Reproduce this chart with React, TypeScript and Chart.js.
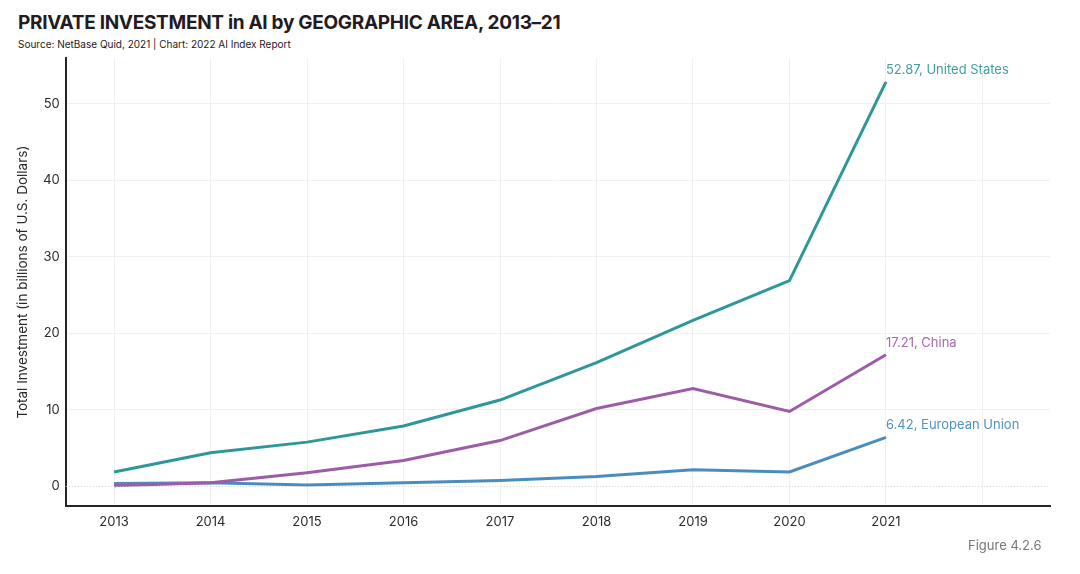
import React, { useEffect, useRef } from "react";
import { Chart, registerables } from "chart.js";

Chart.register(...registerables);

const years = [2013, 2014, 2015, 2016, 2017, 2018, 2019, 2020, 2021];
const usValues = [1.9, 4.4, 5.8, 7.9, 11.3, 16.2, 21.7, 26.9, 52.87];
const chinaValues = [0.1, 0.5, 1.8, 3.4, 6.0, 10.2, 12.8, 9.8, 17.21];
const euValues = [0.4, 0.5, 0.2, 0.5, 0.8, 1.3, 2.2, 1.9, 6.42];
const seriesNames = ["United States", "China", "European Union"];
const seriesColors = ["#2f9797", "#9d5ca6", "#4a8dbd"];
const labelColors = ["#3e9fa0", "#a569ad", "#4f93c0"];
const yTicks = [0, 10, 20, 30, 40, 50];
const xGridYears = [2013, 2014, 2015, 2016, 2017, 2018, 2019, 2020, 2021, 2022];

const FONT = "Inter, 'Liberation Sans', Arial, sans-serif";

const endLabels = {
  id: "endLabels",
  afterDatasetsDraw(chart: any) {
    const ctx = chart.ctx;
    ctx.save();
    const ys = chart.scales.y;
    const y0 = ys.getPixelForValue(0);
    ctx.strokeStyle = "#cfcfcf";
    ctx.lineWidth = 1;
    ctx.setLineDash([1, 2]);
    ctx.beginPath();
    ctx.moveTo(chart.chartArea.left, y0);
    ctx.lineTo(chart.chartArea.right, y0);
    ctx.stroke();
    ctx.setLineDash([]);
    chart.data.datasets.forEach((ds: any, i: number) => {
      const meta = chart.getDatasetMeta(i);
      const last = meta.data[meta.data.length - 1];
      const v = ds.data[ds.data.length - 1].y;
      ctx.fillStyle = labelColors[i];
      ctx.font = "13px " + FONT;
      ctx.textAlign = "left";
      ctx.textBaseline = "alphabetic";
      ctx.fillText(v.toFixed(2) + ", " + seriesNames[i], last.x, last.y - 8);
    });
    ctx.restore();
  },
};

export default function App() {
  const ref = useRef<HTMLCanvasElement>(null);
  useEffect(() => {
    if (!ref.current) return;
    const all = [usValues, chinaValues, euValues];
    const chart = new Chart(ref.current, {
      type: "line",
      data: {
        datasets: all.map((vals, i) => ({
          label: seriesNames[i],
          data: vals.map((v, j) => ({ x: years[j], y: v })),
          borderColor: seriesColors[i],
          backgroundColor: seriesColors[i],
          borderWidth: 3,
          pointRadius: 0,
          tension: 0,
        })),
      },
      plugins: [endLabels],
      options: {
        animation: false,
        responsive: false,
        maintainAspectRatio: false,
        layout: { padding: { left: 15, right: 30, top: 58, bottom: 36 } },
        plugins: { legend: { display: false }, tooltip: { enabled: false } },
        scales: {
          x: {
            type: "linear",
            min: 2012.5,
            max: 2022.7,
            afterBuildTicks: (s: any) => {
              s.ticks = xGridYears.map((v) => ({ value: v }));
            },
            ticks: {
              color: "#2b2b2b",
              font: { family: FONT, size: 13 },
              padding: 8,
              maxRotation: 0,
              callback: (v: any) => (v <= 2021 ? String(v) : ""),
            },
            grid: { color: "#f0f0f0", drawTicks: false },
            border: { color: "#2a2229", width: 2 },
          },
          y: {
            min: -2.6,
            max: 56,
            afterBuildTicks: (s: any) => {
              s.ticks = yTicks.map((v) => ({ value: v }));
            },
            ticks: {
              color: "#2b2b2b",
              font: { family: FONT, size: 13 },
              padding: 6,
            },
            grid: {
              color: (c: any) => (c.tick && c.tick.value === 0 ? "rgba(0,0,0,0)" : "#f0f0f0"),
              drawTicks: false,
            },
            border: { color: "#2a2229", width: 2 },
            title: {
              display: true,
              text: "Total Investment (in billions of U.S. Dollars)",
              color: "#2b2b2b",
              font: { family: FONT, size: 13.5 },
              padding: { top: 0, bottom: 6 },
            },
          },
        },
      },
    });
    return () => chart.destroy();
  }, []);

  return (
    <div style={{ position: "fixed", left: 0, top: 0, width: 1080, height: 574, background: "#fff", fontFamily: FONT }}>
      <div style={{ position: "absolute", left: 18, top: 11, fontSize: 19, fontWeight: 700, color: "#231a22", whiteSpace: "nowrap", letterSpacing: -0.3 }}>
        PRIVATE INVESTMENT in AI by GEOGRAPHIC AREA, 2013–21
      </div>
      <div style={{ position: "absolute", left: 18, top: 38, fontSize: 10, color: "#231a22", whiteSpace: "nowrap" }}>
        Source: NetBase Quid, 2021 | Chart: 2022 AI Index Report
      </div>
      <canvas ref={ref} width={1080} height={574} style={{ position: "absolute", left: 0, top: 0, width: 1080, height: 574 }} />
      <div style={{ position: "absolute", left: 968, top: 537, fontSize: 13, color: "#777", whiteSpace: "nowrap" }}>
        Figure 4.2.6
      </div>
    </div>
  );
}
